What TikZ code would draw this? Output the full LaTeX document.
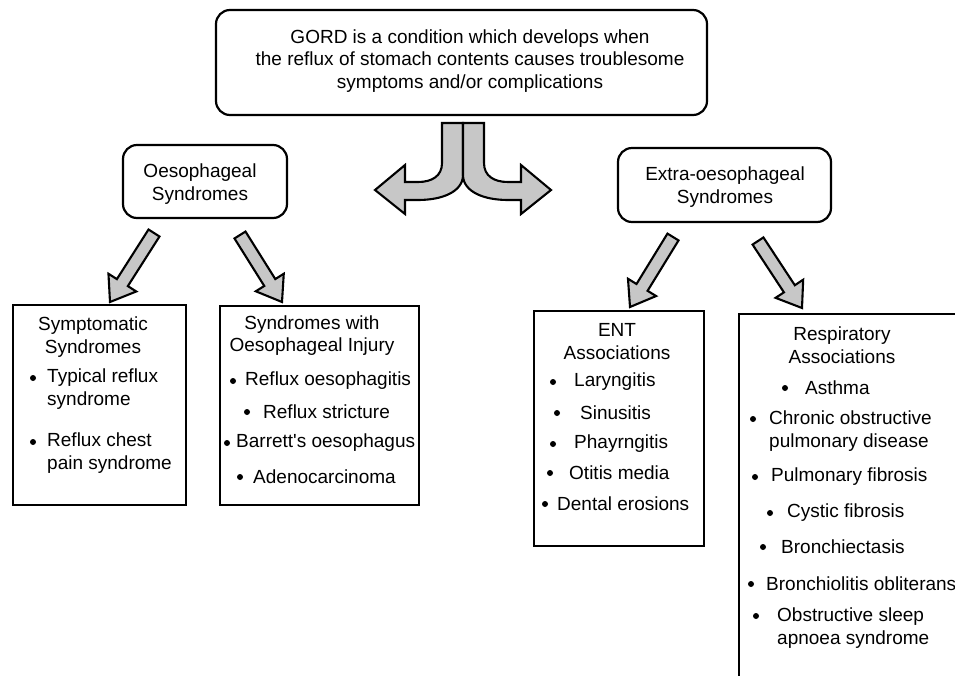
\documentclass[tikz,border=0pt]{standalone}
\usepackage{fontspec}
\setmainfont{Liberation Sans}
\usetikzlibrary{calc}

% grey block arrow from #1 (tail) to #2 (tip)
\newcommand{\blockarrow}[2]{%
  \coordinate (hb) at ($(#2)!23pt!(#1)$);
  \draw[blockarr] ($(#1)!6.5pt!90:(#2)$) -- ($(hb)!6.5pt!90:(#2)$) -- ($(hb)!16.5pt!90:(#2)$)
    -- (#2) -- ($(hb)!16.5pt!-90:(#2)$) -- ($(hb)!6.5pt!-90:(#2)$) -- ($(#1)!6.5pt!-90:(#2)$) -- cycle;}

\begin{document}
\begin{tikzpicture}[
    x=1pt, y=-1pt,
    font=\fontsize{19}{22.5}\selectfont,
    rbox/.style={draw, line width=2.2pt, rounded corners=14pt, inner sep=0},
    lbox/.style={draw, line width=2pt, inner sep=0, anchor=north west},
    title/.style={align=center, inner sep=0},
    entry/.style={align=left, anchor=west, inner sep=0},
    dot/.style={circle, fill, inner sep=0, minimum size=6pt},
    blockarr/.style={draw, line width=2.1pt, fill=black!22}
]
\useasboundingbox (0,0) rectangle (955,675);
\clip (0,0) rectangle (955,675);

% Top box
\node[rbox, minimum width=491pt, minimum height=105pt] (gord) at (461.5,62.5) {};
\node[title] (gordtxt) at (470,61) {GORD is a condition which develops when\\the reflux of stomach contents causes troublesome\\symptoms and/or complications};

% Split arrow
\draw[blockarr] (463,123) -- (442,123) -- (442,163) .. controls (442,176) and (432,182) .. (418,182)
  -- (405,182) -- (405,165) -- (375,190) -- (405,214) -- (405,200) -- (418,200)
  .. controls (442,200) and (462,192) .. (463,176) -- cycle;
\draw[blockarr] (463,123) -- (484,123) -- (484,163) .. controls (484,176) and (494,182) .. (508,182)
  -- (521,182) -- (521,165) -- (551,190) -- (521,214) -- (521,200) -- (508,200)
  .. controls (484,200) and (464,192) .. (463,176) -- cycle;

% Middle row
\node[rbox, minimum width=164pt, minimum height=73pt] (oes) at (205,181.5) {};
\node[title] (oestxt) at (200,184) {Oesophageal\\Syndromes};
\node[rbox, minimum width=213pt, minimum height=74pt] (extra) at (724.5,185) {};
\node[title] (extratxt) at (725,187) {Extra-oesophageal\\Syndromes};

% Bottom row - boxes
\node[lbox, minimum width=173pt, minimum height=200pt] (symp) at (12,304) {};
\node[lbox, minimum width=199pt, minimum height=199pt] (injury) at (219,305) {};
\node[lbox, minimum width=170pt, minimum height=235pt] (ent) at (533,310) {};
\node[lbox, minimum width=260pt, minimum height=400pt] (resp) at (738,313) {};

% Symptomatic
\node[title] (symptitle) at (93,337) {Symptomatic\\Syndromes};
\node[dot] (s1) at (33,378) {};
\node[entry] (s1txt) at (47,389) {Typical reflux\\syndrome};
\node[dot] (s2) at (33,442) {};
\node[entry] (s2txt) at (47,453) {Reflux chest\\pain syndrome};

% Oesophageal injury
\node[title] (injtitle) at (312,335.5) {Syndromes with\\Oesophageal Injury};
\node[dot] (i1) at (233,381) {};
\node[entry] (i1txt) at (245,381) {Reflux oesophagitis};
\node[dot] (i2) at (247,412) {};
\node[entry] (i2txt) at (263,412) {Reflux stricture};
\node[dot] (i3) at (227,443) {};
\node[entry] (i3txt) at (236,443) {Barrett\textquotesingle s oesophagus};
\node[dot] (i4) at (240,477) {};
\node[entry] (i4txt) at (253,477) {Adenocarcinoma};

% ENT
\node[title] (enttitle) at (617,341.5) {ENT\\Associations};
\node[dot] (e1) at (553,382) {};
\node[entry] (e1txt) at (574,382) {Laryngitis};
\node[dot] (e2) at (557,413) {};
\node[entry] (e2txt) at (580,413) {Sinusitis};
\node[dot] (e3) at (553,444) {};
\node[entry] (e3txt) at (574,444) {Phayrngitis};
\node[dot] (e4) at (550,473) {};
\node[entry] (e4txt) at (569,473) {Otitis media};
\node[dot] (e5) at (545,504) {};
\node[entry] (e5txt) at (557,504) {Dental erosions};

% Respiratory
\node[title] (resptitle) at (842,345) {Respiratory\\Associations};
\node[dot] (r1) at (785,388) {};
\node[entry] (r1txt) at (805,388) {Asthma};
\node[dot] (r2) at (753,419) {};
\node[entry] (r2txt) at (769,431) {Chronic obstructive\\pulmonary disease};
\node[dot] (r3) at (755,477) {};
\node[entry] (r3txt) at (771,477) {Pulmonary fibrosis};
\node[dot] (r4) at (770,513) {};
\node[entry] (r4txt) at (787,513) {Cystic fibrosis};
\node[dot] (r5) at (763,547) {};
\node[entry] (r5txt) at (781,547) {Bronchiectasis};
\node[dot] (r6) at (751,584) {};
\node[entry] (r6txt) at (766,584) {Bronchiolitis obliterans};
\node[dot] (r7) at (756,616) {};
\node[entry] (r7txt) at (777,628) {Obstructive sleep\\apnoea syndrome};

% Arrows
\coordinate (a1s) at (154,233); \coordinate (a1e) at (110,302);
\coordinate (a2s) at (240,235); \coordinate (a2e) at (282,302);
\coordinate (a3s) at (673,237); \coordinate (a3e) at (630,307);
\coordinate (a4s) at (758,241); \coordinate (a4e) at (802,308);
\blockarrow{a1s}{a1e}
\blockarrow{a2s}{a2e}
\blockarrow{a3s}{a3e}
\blockarrow{a4s}{a4e}

\end{tikzpicture}
\end{document}
